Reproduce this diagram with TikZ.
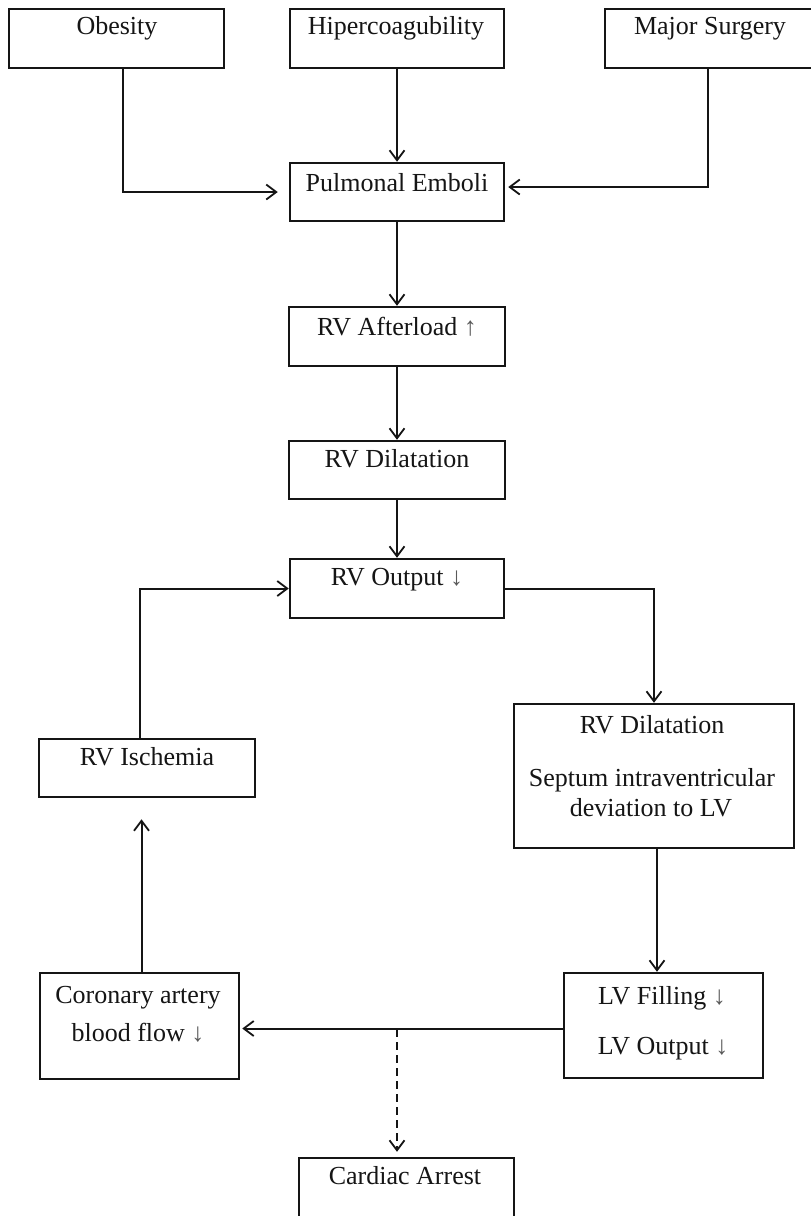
\documentclass[tikz,border=0pt]{standalone}
\usepackage{fontspec}
\setmainfont{Liberation Serif}
\usetikzlibrary{arrows.meta}
\definecolor{ink}{HTML}{151515}
\newcommand\arrdn{{\color{black!65}↓}}
\newcommand\arrup{{\color{black!65}↑}}
\begin{document}
\begin{tikzpicture}[x=1pt,y=-1pt,
  box/.style={draw=ink, line width=2.5pt, rectangle, inner sep=0pt},
  lbl/.style={anchor=base, inner sep=0pt, font=\fontsize{26}{30}\selectfont, text=ink},
  conn/.style={draw=ink, line width=2pt, -{Straight Barb[length=10pt,width=15pt,line width=1.8pt]}},
]
\useasboundingbox (0,0) rectangle (811,1216);
\fill[white] (0,0) rectangle (811,1216);
\clip (0,0) rectangle (811,1216);

% boxes
\node[box, minimum width=215pt, minimum height=59pt] (obesity) at (116.5,38.5) {};
\node[box, minimum width=214pt, minimum height=59pt] (hiper) at (397,38.5) {};
\node[box, minimum width=210pt, minimum height=59pt] (major) at (710,38.5) {};
\node[box, minimum width=214pt, minimum height=58pt] (pulm) at (397,192) {};
\node[box, minimum width=216pt, minimum height=59pt] (after) at (397,336.5) {};
\node[box, minimum width=216pt, minimum height=58pt] (rvdil) at (397,470) {};
\node[box, minimum width=214pt, minimum height=59pt] (rvout) at (397,588.5) {};
\node[box, minimum width=280pt, minimum height=144pt] (rvdil2) at (654,776) {};
\node[box, minimum width=216pt, minimum height=58pt] (isch) at (147,768) {};
\node[box, minimum width=199pt, minimum height=106pt] (coronary) at (139.5,1026) {};
\node[box, minimum width=199pt, minimum height=105pt] (lv) at (663.5,1025.5) {};
\node[box, minimum width=215pt, minimum height=60pt] (cardiac) at (406.5,1188) {};

% texts
\node[lbl] (t-obesity) at (117,34) {Obesity};
\node[lbl] (t-hiper) at (396,34) {Hipercoagubility};
\node[lbl] (t-major) at (710,34) {Major Surgery};
\node[lbl] (t-pulm) at (397,191) {Pulmonal Emboli};
\node[lbl] (t-after) at (397,335) {RV Afterload \arrup};
\node[lbl] (t-rvdil) at (397,467) {RV Dilatation};
\node[lbl] (t-rvout) at (397,585) {RV Output \arrdn};
\node[lbl] (t-rvdil2a) at (652,733) {RV Dilatation};
\node[lbl] (t-rvdil2b) at (652,786) {Septum intraventricular};
\node[lbl] (t-rvdil2c) at (651,816) {deviation to LV};
\node[lbl] (t-isch) at (147,765) {RV Ischemia};
\node[lbl] (t-cora) at (138,1003) {Coronary artery};
\node[lbl] (t-corb) at (138,1041) {blood flow \arrdn};
\node[lbl] (t-lva) at (662,1004) {LV Filling \arrdn};
\node[lbl] (t-lvb) at (663,1054) {LV Output \arrdn};
\node[lbl] (t-cardiac) at (405,1184) {Cardiac Arrest};

% connectors
\draw[conn, shorten >=11pt] ([xshift=6.5pt]obesity.south) |- (pulm.west);
\draw[conn] (hiper) -- (pulm);
\draw[conn, shorten >=3pt] ([xshift=-2pt]major.south) |- ([yshift=5pt]pulm.east);
\draw[conn] (pulm) -- (after);
\draw[conn] (after) -- (rvdil);
\draw[conn] (rvdil) -- (rvout);
\draw[conn] (rvout.east) -| (rvdil2.north);
\draw[conn] ([xshift=3pt]rvdil2.south) -- ([xshift=3pt]rvdil2.south |- lv.north);
\draw[conn, shorten >=2pt] ([yshift=-3pt]lv.west) -- ([yshift=-3pt]lv.west -| coronary.east);
\coordinate (j) at (397,1029);
\draw[conn, dash pattern=on 8pt off 5pt, shorten >=5pt] (j) -- (j |- cardiac.north);
\draw[conn, shorten >=21pt] ([xshift=2pt]coronary.north) -- ([xshift=2pt]coronary.north |- isch.south);
\draw[conn] ([xshift=-7pt]isch.north) |- (rvout.west);
\end{tikzpicture}
\end{document}
